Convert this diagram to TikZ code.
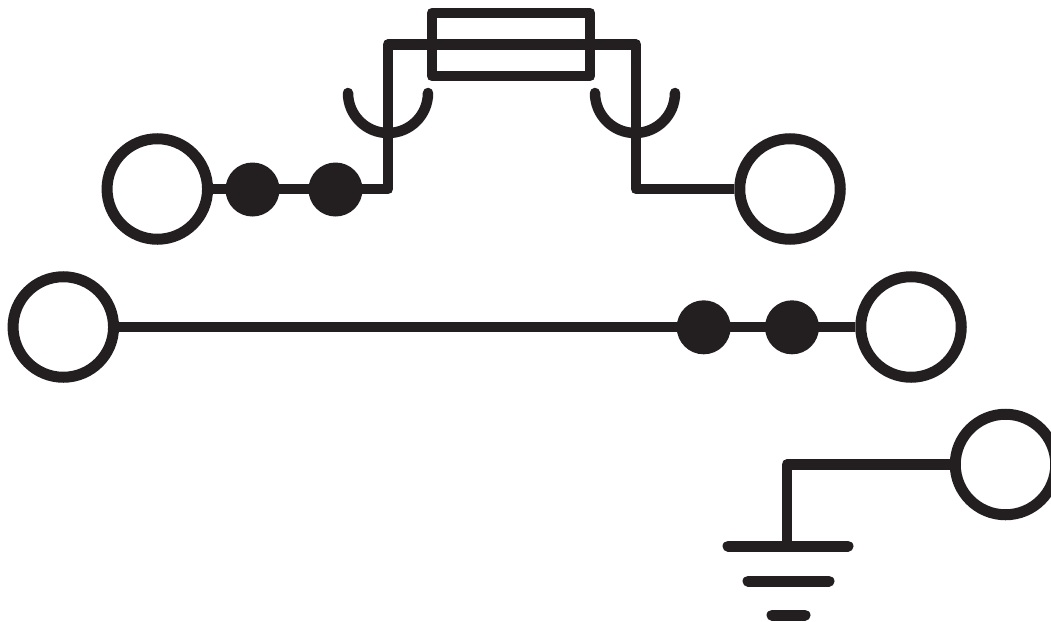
\documentclass[tikz,border=0pt]{standalone}
\definecolor{ink}{HTML}{231F20}
\tikzset{
  wire/.style={draw=ink,line width=10.8pt,line cap=butt,line join=round},
  cup/.style={draw=ink,line width=10.5pt,line cap=round},
  term/.style={circle,draw=ink,line width=11pt,fill=white,minimum size=100.5pt,inner sep=0pt},
  dot/.style={circle,fill=ink,minimum size=54pt,inner sep=0pt},
  gnd/.style={draw=ink,line width=11pt,line cap=round}
}
\begin{document}
\begin{tikzpicture}[x=1pt,y=-1pt]
\useasboundingbox (0,0) rectangle (1051,621);
% terminals
\node[term] (t1) at (157.3,189) {};
\node[term] (t2) at (790,189) {};
\node[term] (t3) at (63.3,327) {};
\node[term] (t4) at (911,327) {};
\node[term] (t5) at (1005.5,464.5) {};
% wires
\coordinate (a1) at (388,189);
\coordinate (a2) at (388,44.5);
\coordinate (a3) at (636,44.5);
\coordinate (a4) at (636,189);
\coordinate (g1) at (787,464.5);
\coordinate (g2) at (787,546);
\draw[wire] (t1) -- (a1) -- (a2) -- (a3) -- (a4) -- (t2);
\draw[wire] (t3) -- (t4);
\draw[wire] (t5) -- (g1) -- (g2);
% fuse
\draw[wire] (432,13) rectangle (590,76);
% cups
\coordinate (c1) at (348,93);
\coordinate (c2) at (595,93);
\draw[cup] (c1) arc[start angle=180,end angle=360,x radius=40,y radius=-40];
\draw[cup] (c2) arc[start angle=180,end angle=360,x radius=40,y radius=-40];
% dots
\node[dot] (d1) at (252.5,189.5) {};
\node[dot] (d2) at (335.5,189.5) {};
\node[dot] (d3) at (703.7,327.3) {};
\node[dot] (d4) at (792,327.3) {};
% ground
\coordinate (gl1) at (728,546); \coordinate (gr1) at (848,546);
\coordinate (gl2) at (748,581); \coordinate (gr2) at (829,581);
\coordinate (gl3) at (772,615); \coordinate (gr3) at (805,615);
\draw[gnd] (gl1) -- (gr1);
\draw[gnd] (gl2) -- (gr2);
\draw[gnd] (gl3) -- (gr3);
\end{tikzpicture}
\end{document}
